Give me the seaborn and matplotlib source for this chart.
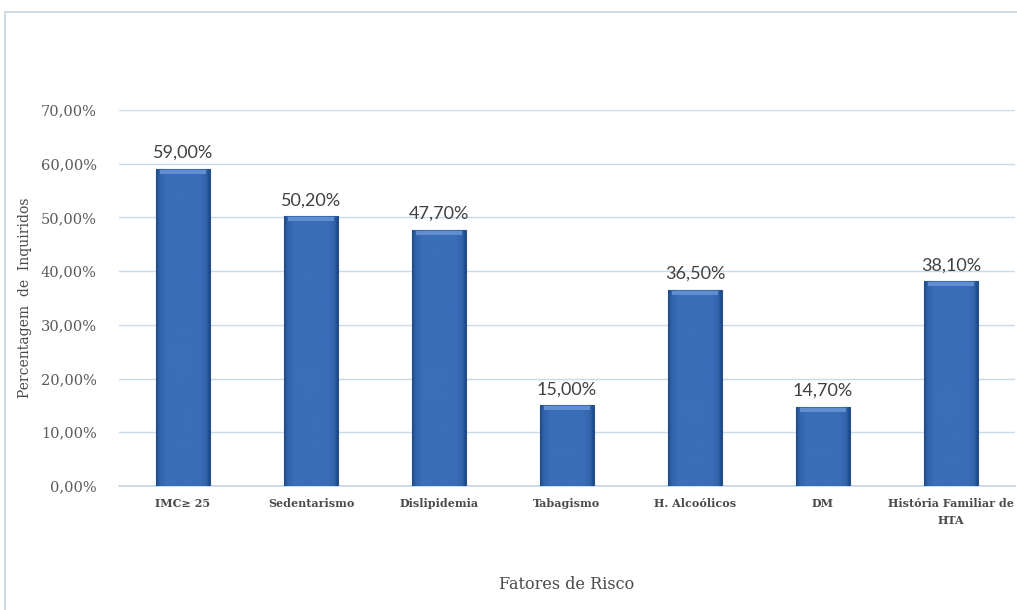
import numpy as np
import pandas as pd
import seaborn as sns
import matplotlib.pyplot as plt
from matplotlib.colors import LinearSegmentedColormap
from matplotlib.lines import Line2D

# dados do gráfico
fatores = ['IMC\u2265 25', 'Sedentarismo', 'Dislipidemia', 'Tabagismo',
           'H. Alcoólicos', 'DM', 'História Familiar de\nHTA']
percentagens = [59.0, 50.2, 47.7, 15.0, 36.5, 14.7, 38.1]
y_ticks = [0, 10, 20, 30, 40, 50, 60, 70]

df = pd.DataFrame({'Fator': fatores, 'Percentagem': percentagens})

sns.set_theme(style='white')
plt.rcParams['font.family'] = ['DejaVu Serif']

fig = plt.figure(figsize=(10.17, 6.1), dpi=100)
ax = fig.add_axes([0.117, 0.2033, 0.881, 0.6164])

sns.barplot(data=df, x='Fator', y='Percentagem', color='#3A6EB8',
            width=0.42, edgecolor='#244F8C', linewidth=0.8, ax=ax, zorder=3)

# bisel nas barras (efeito 3D)
cmap = LinearSegmentedColormap.from_list(
    'barra', [(0, '#1E4782'), (0.07, '#3264AC'), (0.2, '#3A6EB8'),
              (0.8, '#3A6EB8'), (0.93, '#3264AC'), (1, '#1E4782')])
grad = np.linspace(0, 1, 256).reshape(1, -1)
for p in ax.patches:
    x0, y0 = p.get_x(), p.get_y()
    w, h = p.get_width(), p.get_height()
    im = ax.imshow(grad, cmap=cmap, aspect='auto', extent=[x0, x0 + w, y0, y0 + h],
                   zorder=3.5, interpolation='bicubic')
    im.set_clip_path(p)
    # faixa clara no topo
    ax.fill_between([x0 + w * 0.07, x0 + w * 0.93], y0 + h - 0.9, y0 + h - 0.15,
                    color='#5F8FD0', lw=0, zorder=4)

ax.set_xlim(-0.5, len(fatores) - 0.5)
ax.set_ylim(0, 70)
ax.set_yticks(y_ticks)
ax.set_yticklabels([f'{v:.2f}%'.replace('.', ',') for v in y_ticks],
                   fontsize=10.5, color='#5A5A5A')
ax.set_xticks(range(len(fatores)))
ax.set_xticklabels(fatores, fontsize=8, color='#4A4A4A', fontweight='bold',
                   linespacing=1.6)
ax.tick_params(axis='both', length=0, pad=16)
ax.tick_params(axis='x', pad=9)

ax.grid(axis='y', color='#C9DBEA', linewidth=1.0, zorder=0)
for s in ['top', 'right', 'left']:
    ax.spines[s].set_visible(False)
ax.spines['bottom'].set_color('#C2D6E6')
ax.spines['bottom'].set_linewidth(1.2)

for i, v in enumerate(percentagens):
    ax.text(i, v + 1.5, f'{v:.2f}%'.replace('.', ','), ha='center', va='bottom',
            fontsize=13, color='#404040', family=['Lato', 'DejaVu Sans'], zorder=5)

ax.set_ylabel('Percentagem  de  Inquiridos', fontsize=10, color='#4A4A4A', labelpad=6)
ax.set_xlabel('Fatores de Risco', fontsize=11.5, color='#4A4A4A', labelpad=36)

# moldura do gráfico
fig.add_artist(Line2D([5 / 1017, 5 / 1017], [0, 1 - 12 / 610], transform=fig.transFigure,
                      color='#C8D6E2', lw=1.2))
fig.add_artist(Line2D([5 / 1017, 1], [1 - 12 / 610, 1 - 12 / 610], transform=fig.transFigure,
                      color='#C8D6E2', lw=1.2))

fig.savefig('out.png', dpi=100)
